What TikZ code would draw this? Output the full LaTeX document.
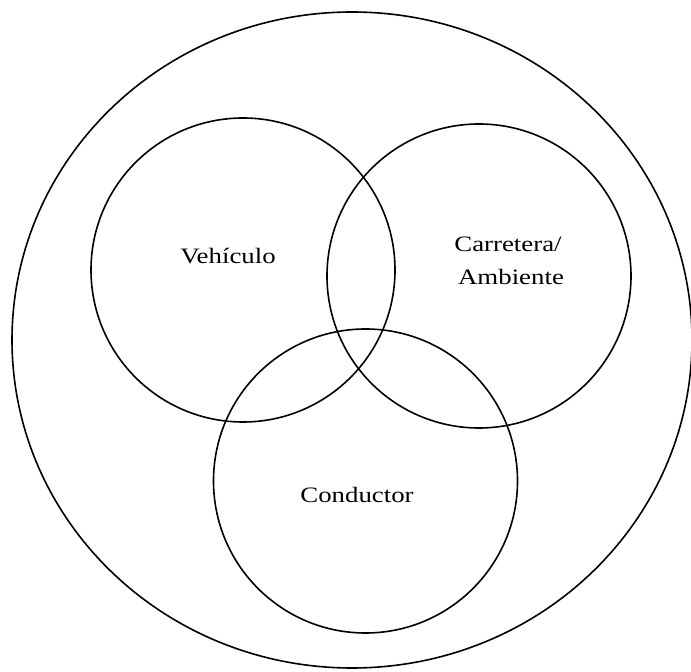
\documentclass[tikz,border=0pt]{standalone}
\usepackage{fontspec}
\setmainfont[FakeStretch=1.22]{Liberation Serif}
\begin{document}
\begin{tikzpicture}[x=1pt,y=1pt,
  ring/.style={draw=black,line width=1.6pt,circle,minimum size=304pt,inner sep=0pt},
  lbl/.style={font=\fontsize{22}{33}\selectfont,inner sep=0pt,anchor=base,align=center}]
\useasboundingbox (0,0) rectangle (691,672);
\draw[line width=1.6pt] (352,332) ellipse [x radius=340, y radius=328];
\node[ring] (veh) at (243,402) {};
\node[ring] (car) at (479,396) {};
\node[ring] (con) at (365.5,191) {};
\node[lbl] (tveh) at (228,408) {Vehículo};
\node[lbl] (tcar1) at (508,420) {Carretera/};
\node[lbl] (tcar2) at (511,387) {Ambiente};
\node[lbl] (tcon) at (357,169) {Conductor};
\end{tikzpicture}
\end{document}
